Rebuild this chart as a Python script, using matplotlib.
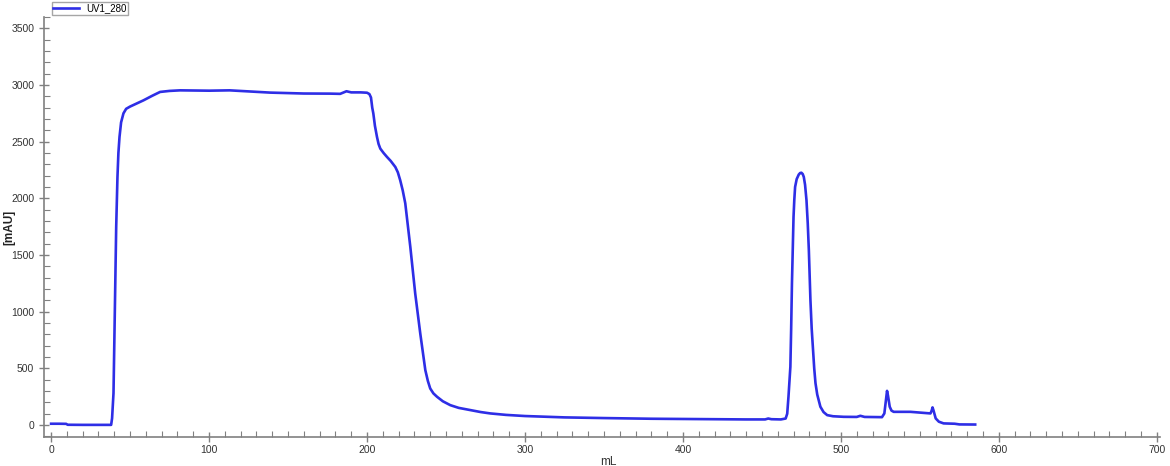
import numpy as np
import matplotlib.pyplot as plt
from matplotlib.ticker import MultipleLocator

plt.rcParams['font.family'] = ['Liberation Sans', 'DejaVu Sans']

# UV1_280 trace (mL, mAU)
volume_ml = [0, 5, 9.5, 10.5, 20, 30, 38.0, 38.6, 39.5, 40.5, 41.2, 42.0, 42.6, 43.3,
             44.3, 45.8, 47.5, 50, 58.5, 64, 69, 75, 81.7, 100, 113, 138.7, 160, 176.7,
             183, 187, 190, 196, 200, 201.5, 202.5, 203.3, 204, 205, 206.3, 207.3, 208.4,
             210.5, 212.6, 215, 217.9, 219.5, 221, 222.6, 224.2, 227.4, 230.5, 233.7,
             236.9, 238.5, 240, 242, 244.3, 248, 252.7, 258, 265.4, 272, 278, 288, 300,
             325, 350, 380, 410, 440, 452, 454, 456, 462, 465, 466, 466.8, 467.5, 468,
             468.5, 469, 469.5, 470, 470.5, 471, 472, 473.3, 474.2, 475, 475.8, 476.5,
             477.3, 478.2, 479, 479.7, 480.7, 481.5, 482.4, 483.1, 483.9, 485, 487, 489,
             491.3, 495, 501.8, 510, 512.3, 515, 526, 527.5, 528.5, 529.2, 529.8, 530.9,
             532, 533.4, 544, 556.7, 557.5, 558, 558.6, 560, 562, 565, 572, 575, 585]
uv280_mau = [12, 12, 11, 3, 2, 2, 2, 60, 282, 1164, 1745, 2186, 2400, 2542,
             2670, 2750, 2790, 2810, 2865, 2905, 2939, 2948, 2953, 2950, 2953, 2933, 2925, 2924,
             2922, 2945, 2935, 2935, 2932, 2920, 2890, 2800, 2748, 2640, 2542, 2480, 2439,
             2400, 2366, 2330, 2277, 2230, 2160, 2070, 1957, 1572, 1161, 808,
             485, 390, 323, 280, 250, 210, 176, 152, 132, 115, 103, 90, 80,
             68, 62, 56, 53, 50, 50, 58, 52, 50, 58, 100, 250, 400, 514,
             850, 1250, 1550, 1837, 1990, 2101, 2170, 2210, 2224, 2226, 2215, 2189,
             2120, 1984, 1780, 1543, 1102, 850, 661, 500, 370, 270, 162, 115,
             88, 78, 73, 72, 82, 72, 70, 103, 220, 302, 260, 162,
             128, 117, 117, 103, 130, 156, 130, 59, 30, 15, 12, 6, 5]

fig = plt.figure(figsize=(11.7, 4.66), dpi=100)
ax = fig.add_axes([44/1170, 29/466, (1160-44)/1170, (449-29)/466])

line, = ax.plot(volume_ml, uv280_mau, color='#2e2ee6', lw=1.9, label='UV1_280')

ax.set_xlim(-4.5, 702)
ax.set_ylim(-105, 3600)

ax.xaxis.set_major_locator(MultipleLocator(100))
ax.xaxis.set_minor_locator(MultipleLocator(10))
ax.yaxis.set_major_locator(MultipleLocator(500))
ax.yaxis.set_minor_locator(MultipleLocator(100))

for s in ['top', 'right']:
    ax.spines[s].set_visible(False)
for s in ['left', 'bottom']:
    ax.spines[s].set_color('#808080')
    ax.spines[s].set_linewidth(1.2)

ax.tick_params(which='major', direction='inout', length=7, width=1, color='#808080',
               labelsize=7.5, labelcolor='#333333')
ax.tick_params(which='minor', direction='in', length=4, width=0.8, color='#808080')
ax.tick_params(axis='x', which='major', pad=2)

ax.set_xlabel('mL', fontsize=8.5, color='#333333')
ax.xaxis.set_label_coords((608-44)/1116, -19/420)
ax.set_ylabel('[mAU]', fontsize=8.5, fontweight='bold', color='#222222')
ax.yaxis.set_label_coords(-29/1116, 0.5)

fig.legend(handles=[line], loc='upper left', bbox_to_anchor=(52/1170, 1 - 2/466),
           bbox_transform=fig.transFigure, fontsize=7, frameon=True, fancybox=False,
           edgecolor='#909090', borderpad=0.15, handlelength=2.6, handletextpad=0.8,
           borderaxespad=0)

fig.savefig('out.png', dpi=100)
